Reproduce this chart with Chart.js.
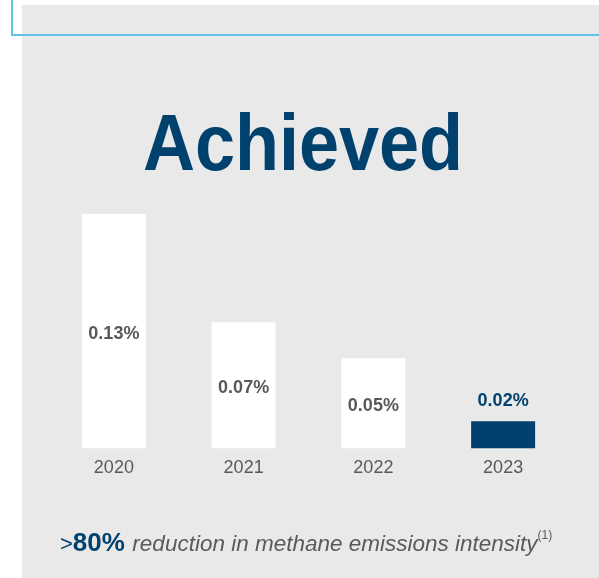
<!DOCTYPE html>
<html>
<head>
<meta charset="utf-8">
<script src="https://cdn.jsdelivr.net/npm/chart.js@4"></script>
<style>
  body { margin: 0; background: #fff; width: 599px; height: 578px; overflow: hidden; position: relative; font-family: "Liberation Sans", Arial, sans-serif; }
  #panel { position: absolute; left: 22px; top: 5px; width: 577px; height: 573px; background: #e9e9e9; }
  #vline { position: absolute; left: 11px; top: 0; width: 2px; height: 36px; background: #5ec4e6; }
  #hline { position: absolute; left: 11px; top: 34px; width: 588px; height: 2px; background: #5ec4e6; }
  #title { position: absolute; left: 0; width: 606px; top: 93px; text-align: center; color: #00416e;
           font: bold 80px "Liberation Sans", Arial, sans-serif; line-height: 100px; transform: scaleX(0.9); transform-origin: 303px 50%; }
  #foot { position: absolute; left: 60px; top: 519px; white-space: nowrap; color: #5a5a5a; line-height: 32px; }
  #foot .gt { color: #00416e; font-size: 22px; }
  #foot .big { color: #00416e; font-size: 26px; font-weight: bold; }
  #foot .it { font-style: italic; font-size: 22.5px; margin-left: 3px; }
  #foot sup { font-size: 12px; vertical-align: 12px; }
  #wrap { position: absolute; left: 0; top: 0; width: 599px; height: 578px; }
</style>
</head>
<body>
<div id="panel"></div>
<div id="vline"></div>
<div id="hline"></div>
<div id="title">Achieved</div>
<div id="wrap"><canvas id="myChart"></canvas></div>
<div id="foot"><span class="gt">&gt;</span><span class="big">80%</span> <span class="it">reduction in methane emissions intensity</span><sup>(1)</sup></div>
<script>
let years = ["2020", "2021", "2022", "2023"]
let intensity = [0.13, 0.07, 0.05, 0.015]
let valueLabels = ["0.13%", "0.07%", "0.05%", "0.02%"]
let barColors = ["#ffffff", "#ffffff", "#ffffff", "#00416e"]
let labelColors = ["#595959", "#595959", "#595959", "#00416e"]

// draws the % numbers: inside white bars, above the blue one
const valuePlugin = {
    id: "valueLabels",
    afterDatasetsDraw(chart) {
        const ctx = chart.ctx
        const meta = chart.getDatasetMeta(0)
        ctx.save()
        ctx.font = "bold 18px 'Liberation Sans', Arial, sans-serif"
        ctx.textAlign = "center"
        ctx.textBaseline = "middle"
        meta.data.forEach(function (bar, i) {
            ctx.fillStyle = labelColors[i]
            let y
            if (i == 3) {
                y = bar.y - 20
            } else {
                y = (bar.y + bar.base) / 2 + 3
            }
            ctx.fillText(valueLabels[i], bar.x, y)
        })
        ctx.restore()
    }
}

const myChart = new Chart(document.getElementById("myChart"), {
    type: "bar",
    data: {
        labels: years,
        datasets: [{
            data: intensity,
            backgroundColor: barColors,
            borderWidth: 0,
            categoryPercentage: 1,
            barPercentage: 0.493
        }]
    },
    options: {
        responsive: true,
        maintainAspectRatio: false,
        animation: false,
        layout: { padding: { top: 196, bottom: 90, left: 49, right: 31 } },
        plugins: { legend: { display: false }, tooltip: { enabled: false } },
        scales: {
            x: {
                grid: { display: false, drawTicks: false },
                border: { display: false },
                ticks: { color: "#595959", padding: 9, font: { size: 18, family: "'Liberation Sans', Arial, sans-serif", lineHeight: 1.2 } }
            },
            y: {
                display: false,
                min: 0,
                max: 0.14
            }
        }
    },
    plugins: [valuePlugin]
})
</script>
</body>
</html>
